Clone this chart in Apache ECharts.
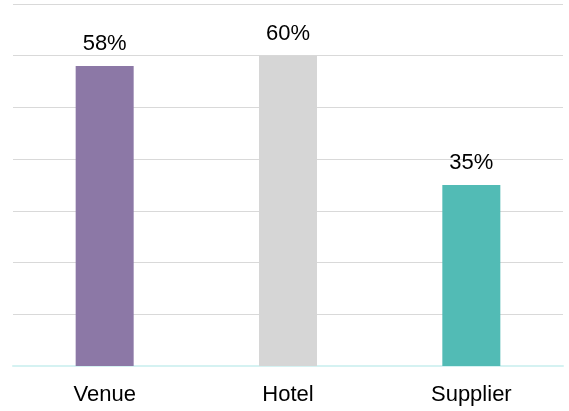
<!DOCTYPE html>
<html>
<head>
<meta charset="utf-8">
<script src="https://cdn.jsdelivr.net/npm/echarts@6/dist/echarts.min.js"></script>
<style>
  html, body { margin: 0; padding: 0; background: #ffffff; }
  #chart { width: 569px; height: 411px; }
</style>
</head>
<body>
<div id="chart"></div>
<script>
// Share of respondents per partner type
const categories = ['Venue', 'Hotel', 'Supplier'];
const shares = [58, 60, 35];
const barColors = ['#8c78a6', '#d6d6d6', '#52bbb5'];

const chart = echarts.init(document.getElementById('chart'), null, { renderer: 'canvas' });

chart.setOption({
  animation: false,
  grid: { left: 13, right: 6, top: 4, bottom: 45, containLabel: false },
  xAxis: {
    type: 'category',
    data: categories,
    axisLine: { show: true, lineStyle: { color: '#d5f2f2', width: 2 } },
    axisTick: { show: false },
    axisLabel: {
      color: '#000000',
      fontFamily: 'Liberation Sans, Arial, sans-serif',
      fontSize: 22,
      margin: 18
    }
  },
  yAxis: {
    type: 'value',
    min: 0,
    max: 70,
    interval: 10,
    axisLine: { show: false },
    axisTick: { show: false },
    axisLabel: { show: false },
    splitLine: { lineStyle: { color: '#d9d9d9', width: 1 } }
  },
  series: [{
    type: 'bar',
    barWidth: 58,
    data: shares.map((v, i) => ({ value: v, itemStyle: { color: barColors[i] } })),
    label: {
      show: true,
      position: 'top',
      distance: 11,
      formatter: '{c}%',
      color: '#000000',
      fontFamily: 'Liberation Sans, Arial, sans-serif',
      fontSize: 22
    }
  }]
});
</script>
</body>
</html>
